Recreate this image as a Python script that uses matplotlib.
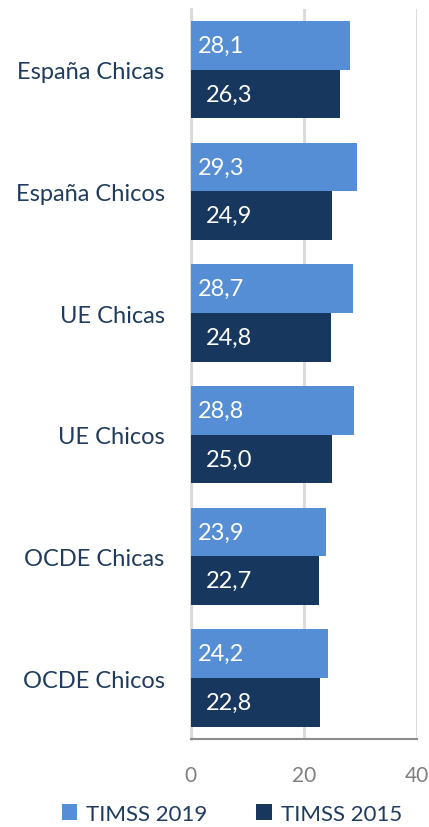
import matplotlib.pyplot as plt
import numpy as np

categories = ['España Chicas', 'España Chicos', 'UE Chicas', 'UE Chicos', 'OCDE Chicas', 'OCDE Chicos']
timss_2019 = [28.1, 29.3, 28.7, 28.8, 23.9, 24.2]
timss_2015 = [26.3, 24.9, 24.8, 25.0, 22.7, 22.8]
series_names = ['TIMSS 2019', 'TIMSS 2015']
xticks = [0, 20, 40]

light = '#558ED5'
dark = '#17375E'
text_color = '#1F3B5F'
grid_color = '#D9D9D9'

plt.rcParams['font.family'] = ['Lato', 'DejaVu Sans']

fig = plt.figure(figsize=(4.29, 8.28), dpi=100)
ax = fig.add_axes([0.445, 0.1063, 0.527, 0.8817])

y = np.arange(len(categories))
h = 0.4
b1 = ax.barh(y - h / 2, timss_2019, height=h, color=light, label=series_names[0], zorder=3)
b2 = ax.barh(y + h / 2, timss_2015, height=h, color=dark, label=series_names[1], zorder=3)

def fmt(v):
    return f'{v:.1f}'.replace('.', ',')

for rect, v in zip(b1, timss_2019):
    ax.text(1.2, rect.get_y() + rect.get_height() / 2, fmt(v), color='white',
            fontsize=17, va='center', ha='left', zorder=4)
for rect, v in zip(b2, timss_2015):
    ax.text(2.6, rect.get_y() + rect.get_height() / 2, fmt(v), color='white',
            fontsize=17, va='center', ha='left', zorder=4)

ax.set_xlim(0, 40)
ax.set_ylim(len(categories) - 0.5, -0.5)
ax.set_xticks(xticks)
ax.set_yticks(y)
ax.set_yticklabels(categories, fontsize=17, color=text_color)
ax.tick_params(axis='y', length=0, pad=19)
ax.tick_params(axis='x', length=0, pad=19, labelsize=15, labelcolor='#7F7F7F')

ax.grid(axis='x', color=grid_color, linewidth=2, zorder=0)
for s in ['top', 'right']:
    ax.spines[s].set_visible(False)
ax.spines['left'].set_color(grid_color)
ax.spines['left'].set_linewidth(2)
ax.spines['bottom'].set_color('#8C8C8C')
ax.spines['bottom'].set_linewidth(1.5)

fig.legend(loc='center', bbox_to_anchor=(0.54, 0.016), ncol=2, frameon=False,
           fontsize=16, labelcolor=text_color, handlelength=0.7, handleheight=0.7,
           handletextpad=0.4, columnspacing=2.2)

plt.savefig('out.png', dpi=100)
plt.close()
